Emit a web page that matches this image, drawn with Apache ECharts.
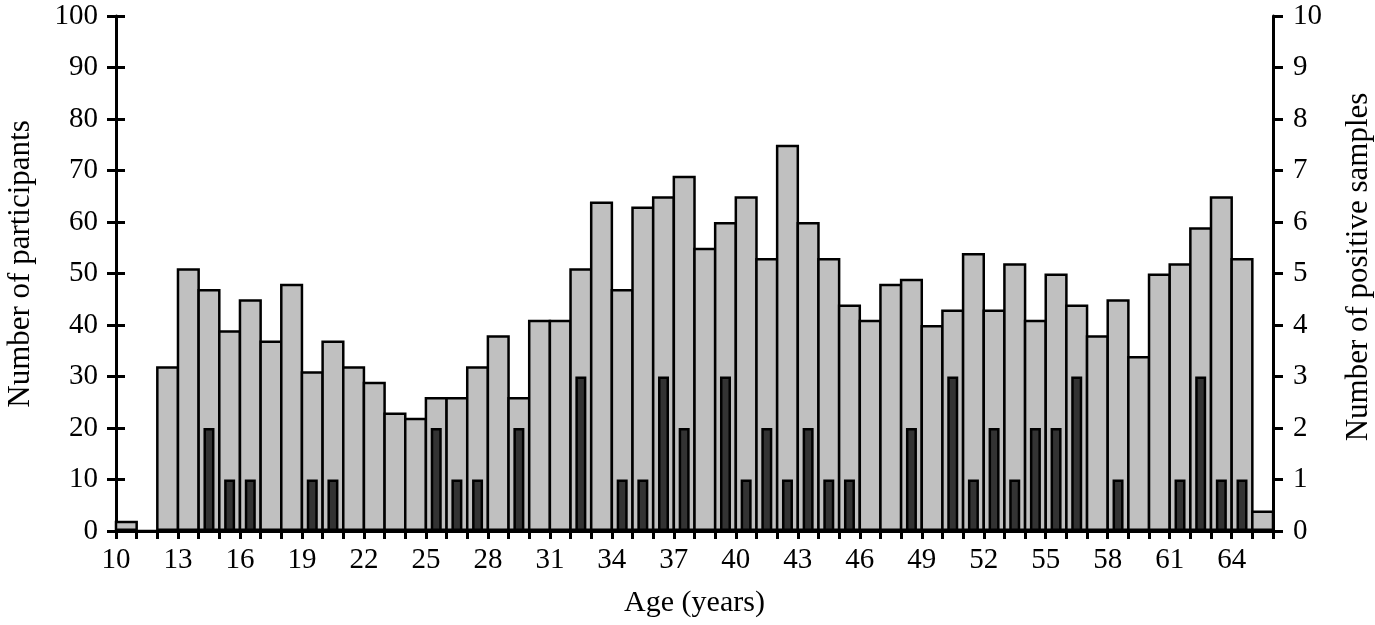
<!DOCTYPE html>
<html>
<head>
<meta charset="utf-8">
<script src="https://cdn.jsdelivr.net/npm/echarts@6/dist/echarts.min.js"></script>
<style>
html,body{margin:0;padding:0;background:#fff;}
#chart{width:1375px;height:625px;}
</style>
</head>
<body>
<div id="chart"></div>
<script>
const ages = ['10','11','12','13','14','15','16','17','18','19','20','21','22','23','24','25','26','27','28','29','30','31','32','33','34','35','36','37','38','39','40','41','42','43','44','45','46','47','48','49','50','51','52','53','54','55','56','57','58','59','60','61','62','63','64','65'];
const participants = [2,0,32,51,47,39,45,37,48,31,37,32,29,23,22,26,26,32,38,26,41,41,51,64,47,63,65,69,55,60,65,53,75,60,53,44,41,48,49,40,43,54,43,52,41,50,44,38,45,34,50,52,59,65,53,4];
const positives = [0,0,0,0,2,1,1,0,0,1,1,0,0,0,0,2,1,1,0,2,0,0,3,0,1,1,3,2,0,3,1,2,1,2,1,1,0,0,2,0,3,1,2,1,2,2,3,0,1,0,0,1,3,1,1,0];
const leftTicks = [0,10,20,30,40,50,60,70,80,90,100];
const rightTicks = [0,1,2,3,4,5,6,7,8,9,10];

const FONT = 'Liberation Serif';
const G = {left:116, right:102, top:16, bottom:94, containLabel:false, outerBoundsMode:'none'};
const binW = (1375 - G.left - G.right) / ages.length;

const chart = echarts.init(document.getElementById('chart'), null, {renderer:'canvas'});
const lineStyle = {color:'#000', width:3};
chart.setOption({
  animation:false,
  backgroundColor:'#fff',
  grid:G,
  xAxis:[
    {type:'category', data:ages, position:'bottom', boundaryGap:true,
     name:'Age (years)', nameLocation:'middle', nameGap:57,
     nameTextStyle:{fontFamily:FONT, fontSize:30, color:'#000'},
     axisLine:{lineStyle:lineStyle},
     axisTick:{show:true, interval:0, length:8, lineStyle:lineStyle},
     axisLabel:{interval:2, margin:15, fontFamily:FONT, fontSize:29, color:'#000', padding:[0, binW, 0, 0]},
     splitLine:{show:false}},
    {type:'category', data:ages, position:'bottom', boundaryGap:true, show:false},
    {type:'category', data:ages, position:'top', boundaryGap:true,
     axisLine:{show:true, lineStyle:lineStyle}, axisTick:{show:false}, axisLabel:{show:false}, splitLine:{show:false}}
  ],
  yAxis:[
    {type:'value', min:leftTicks[0], max:leftTicks[leftTicks.length-1], interval:10, position:'left',
     name:'Number of participants', nameLocation:'middle', nameGap:80,
     nameTextStyle:{fontFamily:FONT, fontSize:31, color:'#000', padding:[0,0,0,19]},
     axisLine:{show:true, lineStyle:lineStyle},
     axisTick:{show:true, length:9, lineStyle:lineStyle},
     axisLabel:{margin:18, fontFamily:FONT, fontSize:29, color:'#000'},
     splitLine:{show:false}},
    {type:'value', min:rightTicks[0], max:rightTicks[rightTicks.length-1], interval:1, position:'right',
     name:'Number of positive samples', nameLocation:'middle', nameGap:70, nameRotate:90,
     nameTextStyle:{fontFamily:FONT, fontSize:31, color:'#000', padding:[0,0,0,13]},
     axisLine:{show:true, lineStyle:lineStyle},
     axisTick:{show:true, length:10, lineStyle:lineStyle},
     axisLabel:{margin:20, fontFamily:FONT, fontSize:29, color:'#000'},
     splitLine:{show:false}},
    {type:'value', min:0, max:100, interval:10, position:'left', show:true,
     axisLine:{show:false}, axisLabel:{show:false}, splitLine:{show:false},
     axisTick:{show:true, inside:true, length:9, lineStyle:lineStyle}}
  ],
  series:[
    {type:'bar', name:'participants', xAxisIndex:0, yAxisIndex:0, data:participants,
     barWidth:binW + 2.5, itemStyle:{color:'#c0c0c0', borderColor:'#000', borderWidth:2.5}},
    {type:'bar', name:'positives', xAxisIndex:1, yAxisIndex:1,
     data:positives.map(v => v === 0 ? null : v),
     barWidth:11, itemStyle:{color:'#333333', borderColor:'#000', borderWidth:2.5}}
  ]
});
</script>
</body>
</html>
